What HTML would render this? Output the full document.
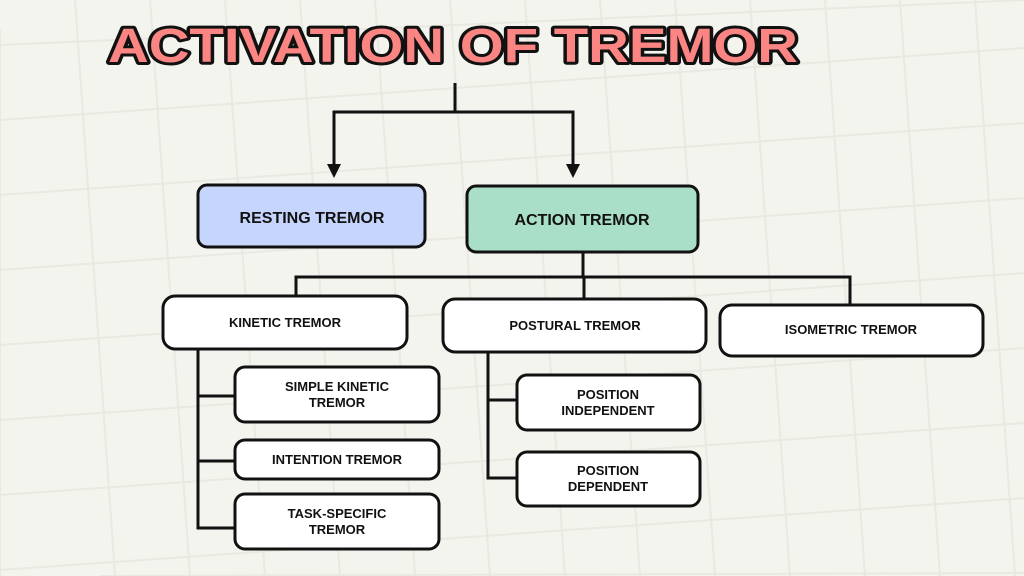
<!DOCTYPE html>
<html><head><meta charset="utf-8"><style>
html,body{margin:0;padding:0;background:#f4f4ee;width:1024px;height:576px;overflow:hidden;}
svg{display:block;}
text{font-family:"Liberation Sans",sans-serif;font-weight:bold;fill:#111;text-anchor:middle;}
</style></head><body>
<svg width="1024" height="576" viewBox="0 0 1024 576" overflow="hidden">
<rect width="1024" height="576" fill="#f4f4ee"/>
<g stroke="#e9e9e2" stroke-width="2">
<line x1="0" y1="30" x2="0" y2="576"/>
<line x1="75" y1="0" x2="115" y2="576"/><line x1="150" y1="0" x2="190" y2="576"/><line x1="225" y1="0" x2="265" y2="576"/><line x1="300" y1="0" x2="340" y2="576"/><line x1="375" y1="0" x2="415" y2="576"/><line x1="450" y1="0" x2="490" y2="576"/><line x1="525" y1="0" x2="565" y2="576"/><line x1="600" y1="0" x2="640" y2="576"/><line x1="675" y1="0" x2="715" y2="576"/><line x1="750" y1="0" x2="790" y2="576"/><line x1="825" y1="0" x2="865" y2="576"/><line x1="900" y1="0" x2="940" y2="576"/><line x1="975" y1="0" x2="1015" y2="576"/>
<line x1="0" y1="45" x2="1024" y2="0"/><line x1="0" y1="120" x2="1024" y2="48"/><line x1="0" y1="195" x2="1024" y2="123"/><line x1="0" y1="270" x2="1024" y2="198"/><line x1="0" y1="345" x2="1024" y2="273"/><line x1="0" y1="420" x2="1024" y2="348"/><line x1="0" y1="495" x2="1024" y2="423"/><line x1="0" y1="570" x2="1024" y2="498"/><line x1="100" y1="576" x2="1024" y2="573"/>
</g>
<text x="453" y="62" font-size="48" textLength="690" lengthAdjust="spacingAndGlyphs" style="fill:#fa8582;stroke:#111;stroke-width:6;stroke-linejoin:round;paint-order:stroke;font-weight:900">ACTIVATION OF TREMOR</text>
<g stroke="#111" stroke-width="3" fill="none">
<path d="M455 83V112M334 172V112H573V172"/>
<path d="M583 252V277M296 296V277H850V305M584 277V300"/>
<path d="M198 349V528H235M198 396H235M198 461H235"/>
<path d="M488 352V478H517M488 400H517"/>
</g>
<path d="M327 164L341 164L334 178Z M566 164L580 164L573 178Z" fill="#111"/>
<g stroke="#111" stroke-width="3">
<rect x="198" y="185" width="227" height="62" rx="9" fill="#c5d5fb"/>
<rect x="467" y="186" width="231" height="66" rx="9" fill="#a9dfc6"/>
<rect x="163" y="296" width="244" height="53" rx="12" fill="#fff"/>
<rect x="443" y="299" width="263" height="53" rx="12" fill="#fff"/>
<rect x="720" y="305" width="263" height="51" rx="12" fill="#fff"/>
<rect x="235" y="367" width="204" height="55" rx="10" fill="#fff"/>
<rect x="235" y="440" width="204" height="39" rx="10" fill="#fff"/>
<rect x="235" y="494" width="204" height="55" rx="10" fill="#fff"/>
<rect x="517" y="375" width="183" height="55" rx="10" fill="#fff"/>
<rect x="517" y="452" width="183" height="54" rx="10" fill="#fff"/>
</g>
<text x="312" y="223" font-size="16">RESTING TREMOR</text>
<text x="582" y="225" font-size="16">ACTION TREMOR</text>
<text x="285" y="327" font-size="13">KINETIC TREMOR</text>
<text x="575" y="330" font-size="13">POSTURAL TREMOR</text>
<text x="851" y="334" font-size="13">ISOMETRIC TREMOR</text>
<text x="337" y="391" font-size="13">SIMPLE KINETIC</text>
<text x="337" y="407" font-size="13">TREMOR</text>
<text x="337" y="464" font-size="13">INTENTION TREMOR</text>
<text x="337" y="518" font-size="13">TASK-SPECIFIC</text>
<text x="337" y="534" font-size="13">TREMOR</text>
<text x="608" y="399" font-size="13">POSITION</text>
<text x="608" y="415" font-size="13">INDEPENDENT</text>
<text x="608" y="475" font-size="13">POSITION</text>
<text x="608" y="491" font-size="13">DEPENDENT</text>
</svg>
</body></html>
